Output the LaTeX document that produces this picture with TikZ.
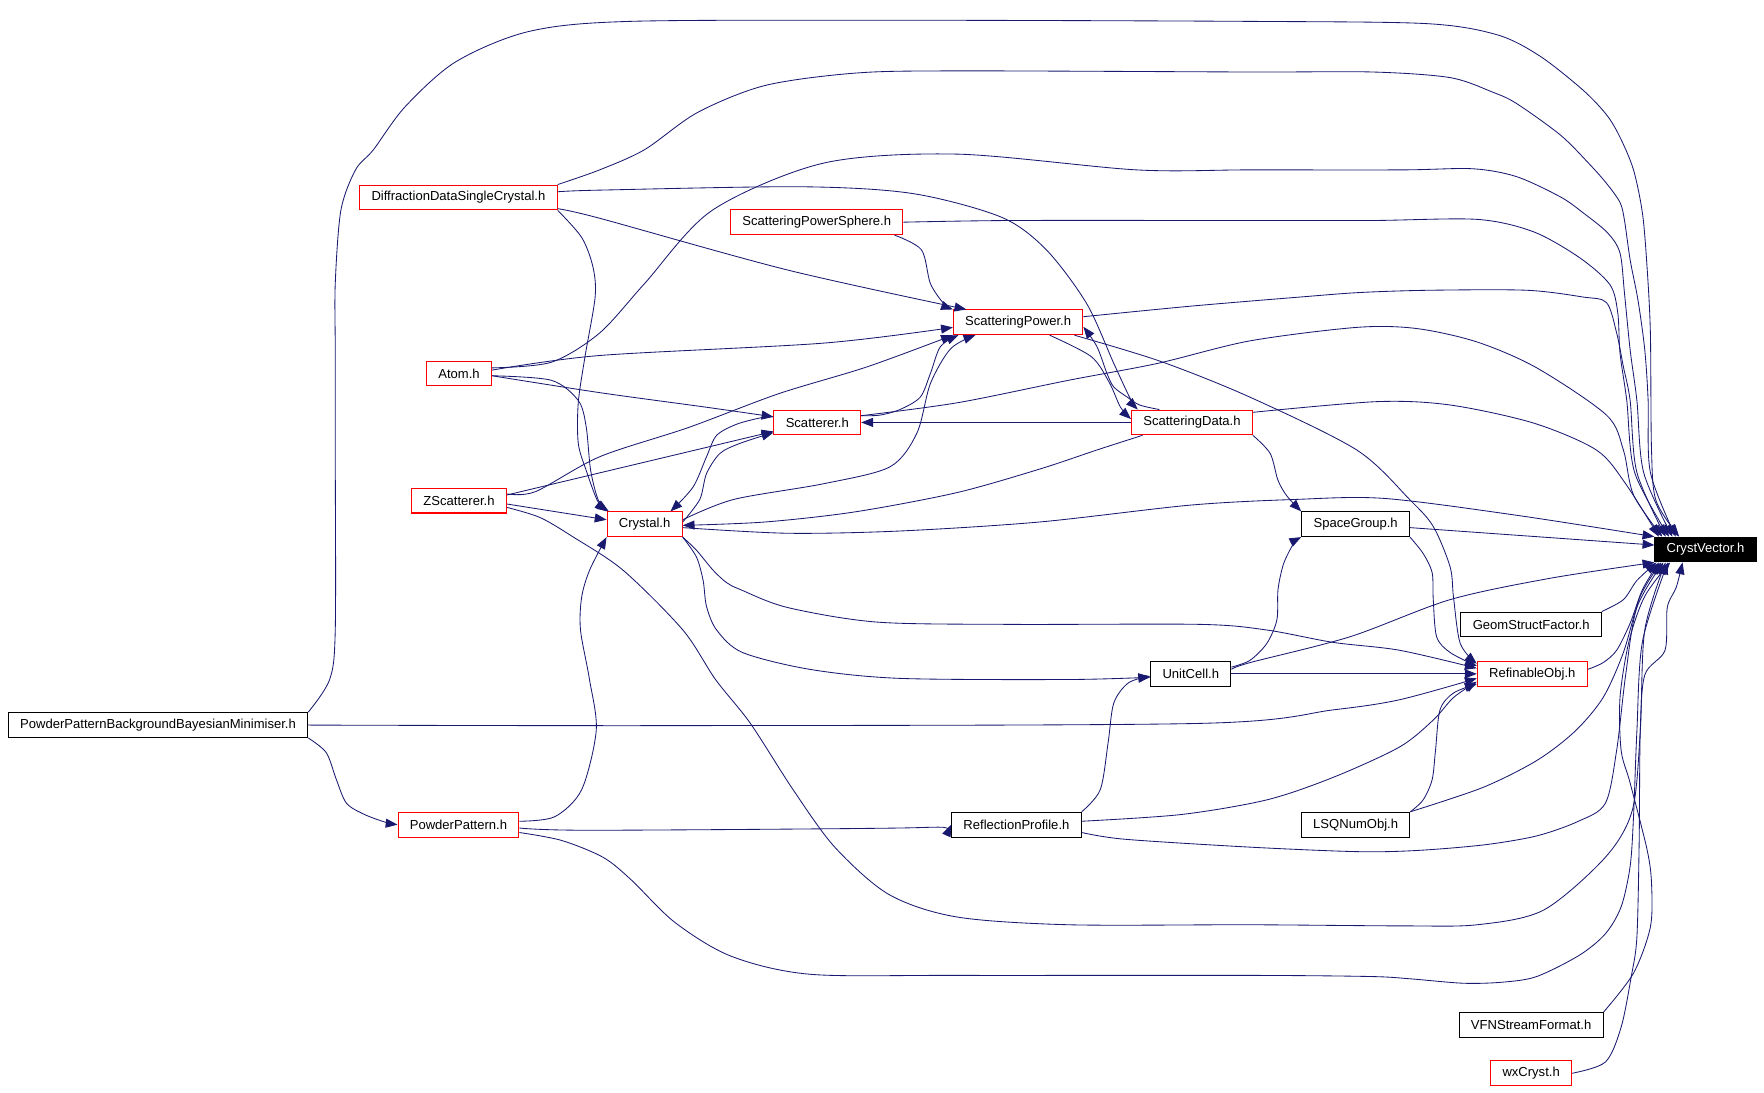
\documentclass[tikz,border=0pt]{standalone}
\usepackage{fontspec}
\setmainfont{Liberation Sans}
\usetikzlibrary{arrows.meta}

\definecolor{edgeblue}{HTML}{191970}

\begin{document}
\begin{tikzpicture}[x=1pt,y=-1pt,
	file/.style={draw=black,line width=0.9pt,inner xsep=10.5pt,inner ysep=0pt,minimum height=22pt,font=\fontsize{11.6}{13}\selectfont},
	redfile/.style={file,draw=red},
	focus/.style={file,fill=black,text=white},
	edge/.style={draw=edgeblue,line width=0.75pt,-{Triangle[length=10.5pt,width=8pt]}},
	sm/.style={smooth,tension=0.5}]

	\useasboundingbox (0,0) rectangle (1568,971);

	% files
	\node[redfile] (dd) at (407.5,175.5) {DiffractionDataSingleCrystal.h};
	\node[redfile] (sps) at (726,197.5) {ScatteringPowerSphere.h};
	\node[redfile] (sp) at (905,286.5) {ScatteringPower.h};
	\node[redfile] (atom) at (408,332) {Atom.h};
	\node[redfile] (sc) at (726.5,375.5) {Scatterer.h};
	\node[redfile] (sd) at (1059.5,375.5) {ScatteringData.h};
	\node[redfile] (zs) at (408,445) {ZScatterer.h};
	\node[redfile] (cr) at (573,466) {Crystal.h};
	\node[file] (sg) at (1205,466) {SpaceGroup.h};
	\node[focus] (cv) at (1516,488.5) {CrystVector.h};
	\node[file] (gsf) at (1361,555) {GeomStructFactor.h};
	\node[redfile] (ro) at (1362,599) {RefinableObj.h};
	\node[file] (uc) at (1058.5,599) {UnitCell.h};
	\node[file] (bayes) at (140.5,644.5) {PowderPatternBackgroundBayesianMinimiser.h};
	\node[redfile] (pp) at (407.5,733) {PowderPattern.h};
	\node[file] (rp) at (903.5,733) {ReflectionProfile.h};
	\node[file] (lsq) at (1205,733) {LSQNumObj.h};
	\node[file] (vfn) at (1361,911) {VFNStreamFormat.h};
	\node[redfile] (wx) at (1361,954) {wxCryst.h};

	% into CrystVector.h
	\draw[edge] plot[sm] coordinates {(bayes.north east) (293,604) (298,560) (298,400) (298,311) (298,252) (303,187) (316,151) (332,133) (360,95) (405,55) (470,28) (560,19) (800,18) (1111,19) (1268,21) (1331,31) (1369,50) (1407,80) (1428,102) (1440,122) (1452,151) (1460,190) (1464,237) (1467,296) (1468,400) (1472,445) ([xshift=22pt]cv.north west)};
	\draw[edge] plot[sm] coordinates {(dd.north east) (533,151) (573,133) (620,100) (680,76) (760,65) (850,63) (1111,64) (1220,64) (1289,69) (1327,82) (1348,92) (1387,120) (1412,145) (1428,163) (1440,180) (1444,196) (1449,231) (1456,267) (1462,311) (1465,356) (1467,420) ([xshift=19pt]cv.north west)};
	\draw[edge] plot[sm] coordinates {([yshift=5pt]atom.east) (490,322) (533,296) (573,252) (633,187) (732,145) (851,137) (1010,151) (1111,151) (1247,151) (1309,150) (1348,157) (1387,175) (1407,189) (1429,207) (1440,225) (1444,261) (1449,311) (1455,356) (1461,420) ([xshift=16pt]cv.north west)};
	\draw[edge] plot[sm] coordinates {(sps.east) (900,196) (1111,196) (1220,196) (1313,195) (1363,206) (1404,229) (1431,253) (1438,278) (1440,314) (1446,356) (1453,420) ([xshift=13pt]cv.north west)};
	\draw[edge] plot[sm] coordinates {([yshift=5pt]sp.east) (1060,272) (1156,264) (1209,260) (1271,258) (1357,258) (1407,264) (1428,269) (1437,296) (1443,326) (1449,356) (1455,420) ([xshift=10pt]cv.north west)};
	\draw[edge] plot[sm] coordinates {([yshift=6pt]sc.east) (851,358) (950,338) (1029,323) (1111,303) (1206,291) (1259,292) (1313,304) (1366,327) (1428,369) (1443,400) (1452,440) ([xshift=7pt]cv.north west)};
	\draw[edge] plot[sm] coordinates {([yshift=9pt]sd.east) (1224,357) (1289,360) (1363,376) (1419,400) (1445,430) ([xshift=4pt]cv.north west)};
	\draw[edge] plot[sm] coordinates {([yshift=-3pt]cr.east) (700,474) (800,472) (924,464) (1058,449) (1150,444) (1230,443) (1348,458) (cv.north west)};
	\draw[edge] ([yshift=-3pt]sg.east) -- ([yshift=4pt]cv.west);
	\draw[edge] plot[sm] coordinates {([yshift=4pt]uc.east) (1111,589) (1200,566) (1289,533) (1378,514) (cv.south west)};
	\draw[edge] plot[sm] coordinates {(gsf.north east) (1443,533) (1455,516) ([xshift=2pt]cv.south west)};
	\draw[edge] plot[sm] coordinates {([yshift=4pt]ro.east) (1425,589) (1437,578) (1449,554) (1460,524) ([xshift=4pt]cv.south west)};
	\draw[edge] plot[sm] coordinates {(lsq.north east) (1318,700) (1366,676) (1400,650) (1425,620) (1443,580) (1458,530) ([xshift=6pt]cv.south west)};
	\draw[edge] plot[sm] coordinates {([yshift=-7pt]rp.east) (1000,746) (1111,753) (1206,757) (1259,756) (1319,751) (1366,743) (1403,730) (1427,714) (1437,667) (1445,600) (1455,540) ([xshift=8pt]cv.south west)};
	\draw[edge] plot[sm] coordinates {([yshift=-6pt]zs.east) (480,460) (509,477) (554,507) (607,560) (636,604) (667,643) (705,702) (742,753) (790,795) (850,815) (950,822) (1111,822) (1247,823) (1313,822) (1372,809) (1427,762) (1451,720) (1458,650) (1462,560) ([xshift=10pt]cv.south west)};
	\draw[edge] plot[sm] coordinates {([yshift=-7pt]pp.east) (499,747) (536,762) (561,782) (600,820) (650,850) (720,866) (850,867) (1111,867) (1218,868) (1253,870) (1301,874) (1336,873) (1366,868) (1404,849) (1427,830) (1441,806) (1449,770) (1452,726) (1455,650) (1460,570) ([xshift=12pt]cv.south west)};
	\draw[edge] plot[sm] coordinates {(vfn.north east) (1452,865) (1467,824) (1468,785) (1464,755) (1449,696) (1441,667) (1440,620) (1448,570) (1462,530) ([xshift=14pt]cv.south west)};
	\draw[edge] plot[sm] coordinates {(wx.east) (1427,944) (1441,913) (1450,868) (1455,833) (1457,750) (1458,650) (1462,600) (1480,578) (1482,540) (1490,522) ([xshift=25pt]cv.south west)};

	% into RefinableObj.h
	\draw[edge] plot[sm] coordinates {([xshift=50pt]sp.south) (1031,321) (1111,353) (1206,400) (1253,444) (1274,468) (1289,504) (1292,531) (1298,572) ([yshift=9pt]ro.west)};
	\draw[edge] plot[sm] coordinates {(sg.south east) (1265,492) (1273,509) (1274,533) (1277,566) (1289,580) ([yshift=7pt]ro.west)};
	\draw[edge] plot[sm] coordinates {(cr.south east) (619,489) (634,507) (646,518) (658,524) (700,540) (780,553) (900,555) (1067,555) (1126,560) (1185,571) (1244,578) ([yshift=5pt]ro.west)};
	\draw[edge] (uc.east) -- (ro.west);
	\draw[edge] plot[sm] coordinates {(bayes.east) (600,645) (1067,643) (1185,631) (1244,622) ([yshift=-4pt]ro.west)};
	\draw[edge] plot[sm] coordinates {([yshift=3pt]rp.east) (1050,724) (1126,711) (1185,691) (1244,664) (1274,640) (1292,620) ([yshift=-7pt]ro.west)};
	\draw[edge] plot[sm] coordinates {(lsq.north east) (1265,711) (1273,693) (1276,667) (1280,631) (1292,616) ([yshift=-9pt]ro.west)};

	% into ScatteringPower.h
	\draw[edge] plot[sm] coordinates {([yshift=-10pt]dd.east) (533,194) (700,240) ([xshift=12pt]sp.north west)};
	\draw[edge] plot[sm] coordinates {([xshift=-8pt]sps.south east) (819,222) (827,252) (839,270) (sp.north west)};
	\draw[edge] plot[sm] coordinates {([yshift=3pt]atom.east) (533,316) (732,305) ([yshift=-4.5pt]sp.west)};
	\draw[edge] plot[sm] coordinates {([yshift=6pt]zs.east) (476,437) (533,406) (612,380) (692,350) (771,326) (sp.south west)};
	\draw[edge] plot[sm] coordinates {([yshift=6pt]sc.east) (782,369) (800,364) (818,353) (827,332) (836,308) ([xshift=5pt]sp.south west)};
	\draw[edge] plot[sm] coordinates {([yshift=4pt]cr.east) (652,444) (732,430) (791,415) (815,385) (827,341) (845,310) ([xshift=20pt]sp.south west)};
	\draw[edge] plot[sm] coordinates {([xshift=-29pt]sd.north) (1013,360) (1002,353) (990,344) (984,332) (975,308) ([yshift=-4pt]sp.east)};

	% into Scatterer.h
	\draw[edge] plot[sm] coordinates {([yshift=-2pt]atom.east) (533,349) (628,362) ([yshift=5pt]sc.west)};
	\draw[edge] ([yshift=5pt]zs.east) -- ([yshift=-8pt]sc.west);
	\draw[edge] plot[sm] coordinates {([yshift=2pt]cr.east) (622,444) (628,421) (640,403) (658,394) ([yshift=-9pt]sc.west)};
	\draw[edge] (sd.west) -- (sc.east);

	% into Crystal.h
	\draw[edge] plot[sm] coordinates {([yshift=5pt]sc.west) (678,371) (655,377) (637,387) (628,406) (616,433) ([xshift=23pt]cr.north)};
	\draw[edge] plot[sm] coordinates {(dd.south east) (517,211) (527,237) (529,264) (520,317) (514,358) (514,394) (521,418) (531,445) (cr.north west)};
	\draw[edge] plot[sm] coordinates {([yshift=-2pt]atom.east) (490,338) (514,356) (521,379) (525,418) (532,445) ([xshift=2pt]cr.north west)};
	\draw[edge] ([yshift=-3pt]zs.east) -- ([yshift=4pt]cr.west);
	\draw[edge] plot[sm] coordinates {([yshift=3pt]pp.east) (493,726) (517,702) (530,649) (524,604) (516,560) (517,531) (524,507) (cr.south west)};
	\draw[edge] plot[sm] coordinates {([xshift=-44pt]sd.south) (975,400) (924,417) (850,438) (760,455) (680,464) ([yshift=-1pt]cr.east)};

	% into ScatteringData.h
	\draw[edge] plot[sm] coordinates {([yshift=5pt]dd.east) (533,169) (712,166) (811,172) (890,193) (930,222) (966,270) (990,323) (1005,355) ([xshift=6pt]sd.north west)};
	\draw[edge] plot[sm] coordinates {([xshift=28pt]sp.south) (970,317) (986,340) (996,362) ([yshift=3pt]sd.west)};

	% into SpaceGroup.h, UnitCell.h
	\draw[edge] plot[sm] coordinates {(sd.south east) (1129,403) (1136,427) (1144,441) (sg.north west)};
	\draw[edge] plot[sm] coordinates {([yshift=6pt]uc.east) (1111,587) (1126,572) (1135,551) (1136,524) (1141,501) (1150,483) (sg.south west)};
	\draw[edge] plot[sm] coordinates {(cr.south east) (619,495) (625,516) (628,539) (637,560) (660,580) (720,595) (800,603) (950,604) ([yshift=-3pt]uc.west)};
	\draw[edge] plot[sm] coordinates {(rp.north east) (978,702) (985,660) (990,625) (1003,607) ([yshift=-2pt]uc.west)};

	% powder pattern
	\draw[edge] plot[sm] coordinates {(bayes.south east) (290,669) (299,693) (308,714) (324,724) (343,731) (pp.west)};
	\draw[edge] plot[sm] coordinates {([yshift=-3pt]pp.east) (525,738) (800,736) (rp.west)};

\end{tikzpicture}
\end{document}
